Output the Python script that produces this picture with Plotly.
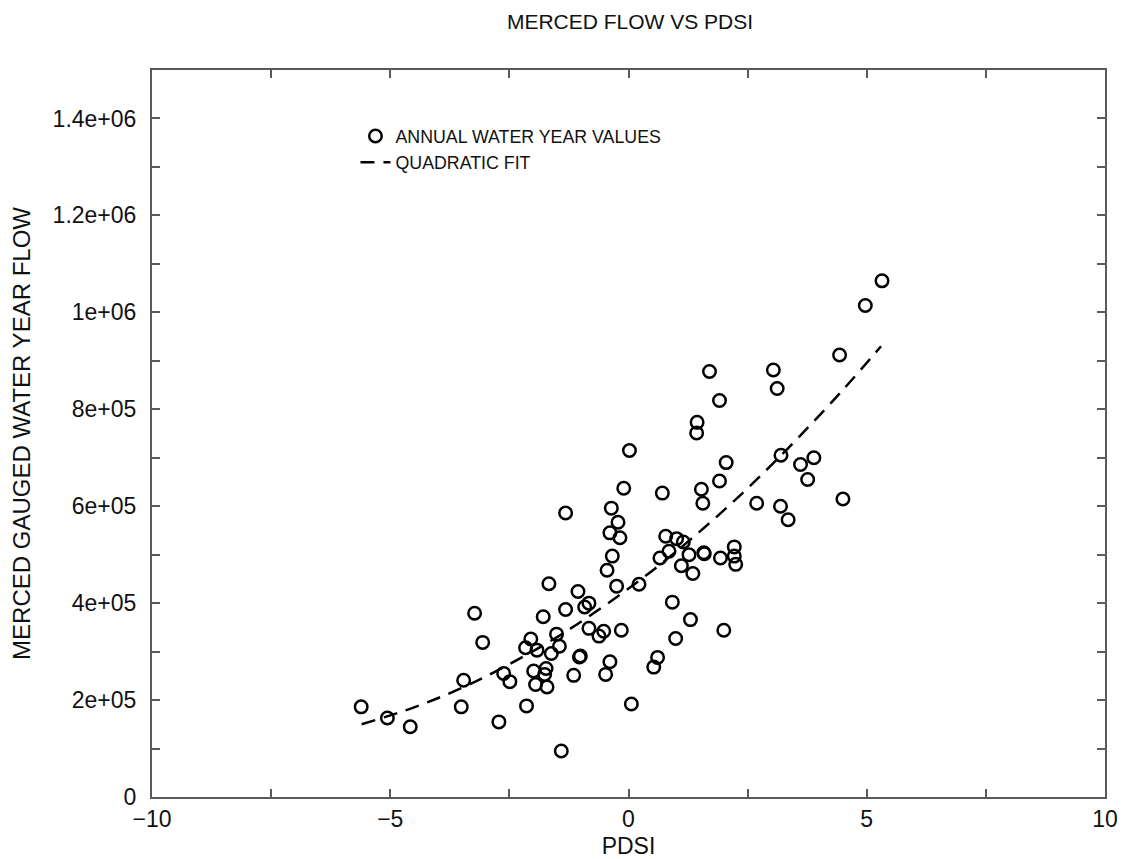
import plotly.graph_objects as go

# Annual water year values (PDSI, flow)
pdsi = [-5.61, -5.06, -4.58, -3.23, -3.06, -3.46, -3.51, -2.72, -2.62, -2.49,
        -2.14, -1.67, -1.79, -2.05, -2.16, -1.92, -1.99, -1.95, -1.71, -1.73,
        -1.76, -1.62, -1.51, -1.45, -1.41, -1.32, -1.06, -0.83, -0.92, -0.83,
        -0.52, -0.62, -1.03, -1.01, -1.15, -0.39, -0.48, -0.15, -0.45, -0.25,
        -0.34, 0.22, 0.06, 0.53, 0.61, 1.44, 1.43, 0.02, -0.10, 0.71,
        2.05, 1.91, 1.53, 1.56, -1.32, -0.36, -0.22, -0.39, -0.18, 0.78,
        1.01, 1.15, 0.85, 0.66, 1.27, 1.11, 1.35, 1.58, 1.59, 1.93,
        2.22, 2.22, 2.25, 2.69, 3.20, 3.61, 3.89, 3.76, 3.19, 3.35,
        4.50, 0.92, 1.30, 2.00, 0.99, 5.32, 4.97, 4.43, 1.70, 1.91,
        3.04, 3.12]
flow = [186e3, 163e3, 145e3, 379e3, 319e3, 241e3, 186e3, 155e3, 255e3, 238e3,
        188e3, 440e3, 372e3, 326e3, 308e3, 303e3, 260e3, 232e3, 227e3, 265e3,
        253e3, 296e3, 336e3, 311e3, 95e3, 387e3, 424e3, 400e3, 392e3, 348e3,
        342e3, 332e3, 289e3, 291e3, 251e3, 279e3, 253e3, 344e3, 468e3, 435e3,
        497e3, 439e3, 192e3, 268e3, 288e3, 773e3, 751e3, 715e3, 637e3, 627e3,
        690e3, 652e3, 635e3, 606e3, 586e3, 596e3, 567e3, 545e3, 535e3, 538e3,
        533e3, 526e3, 507e3, 493e3, 500e3, 477e3, 461e3, 504e3, 502e3, 493e3,
        516e3, 497e3, 480e3, 606e3, 705e3, 686e3, 700e3, 655e3, 600e3, 572e3,
        615e3, 402e3, 366e3, 344e3, 327e3, 1065e3, 1014e3, 912e3, 878e3, 818e3,
        881e3, 843e3]

# Quadratic fit curve
fit_x = [-5.6, -4.5, -3.5, -2.5, -1.5, -0.5, 0.5, 1.5, 2.5, 3.5, 4.5, 5.3]
fit_y = [150e3, 185e3, 225e3, 274e3, 330e3, 395e3, 467e3, 548e3, 637e3, 735e3, 840e3, 930e3]

y_tickvals = [0, 2e5, 4e5, 6e5, 8e5, 1e6, 1.2e6, 1.4e6]
y_ticktext = ["0", "2e+05", "4e+05", "6e+05", "8e+05", "1e+06", "1.2e+06", "1.4e+06"]
x_tickvals = [-10, -5, 0, 5, 10]

FONT = "Liberation Sans, Arial, Helvetica, sans-serif"
AX = "#5a5a5a"

# the page body adds an 8px offset, so the figure is 8px smaller
W, H = 1118, 851

fig = go.Figure()
fig.add_trace(go.Scatter(
    x=pdsi, y=flow, mode="markers", name="ANNUAL WATER YEAR VALUES",
    marker=dict(symbol="circle-open", size=12.5, color="black", line=dict(width=2.5, color="black")),
))
fig.add_trace(go.Scatter(
    x=fit_x, y=fit_y, mode="lines", name="QUADRATIC FIT",
    line=dict(color="black", width=2.5, dash="14px,9px", shape="spline"),
))

fig.update_layout(
    width=W, height=H,
    margin=dict(l=144, r=21, t=62, b=62, autoexpand=False),
    paper_bgcolor="white", plot_bgcolor="white",
    font=dict(family=FONT, color="#111", size=22),
    title=dict(text="MERCED FLOW VS PDSI", x=622 / W, xref="container", xanchor="center",
               y=1 - 14 / H, yref="container", yanchor="middle",
               font=dict(family=FONT, size=21, color="#111")),
    legend=dict(x=0.2135, y=0.934, xanchor="left", yanchor="top",
                bgcolor="rgba(0,0,0,0)", borderwidth=0,
                font=dict(family=FONT, size=17.8, color="#111"),
                tracegroupgap=0, itemwidth=30),
    showlegend=True,
)
fig.update_xaxes(
    range=[-10, 10], tickvals=x_tickvals, showgrid=False, zeroline=False, automargin=False,
    showline=True, linecolor=AX, linewidth=2, mirror="ticks",
    ticks="inside", ticklen=8, tickwidth=1.5, tickcolor=AX,
    minor=dict(dtick=2.5, tick0=0, ticks="inside", ticklen=8, tickwidth=1.5, tickcolor=AX, showgrid=False),
    tickfont=dict(family=FONT, size=23, color="#111"),
    ticklabelstandoff=0,
    title=dict(text="PDSI", font=dict(family=FONT, size=23, color="#111"), standoff=9),
)
fig.update_yaxes(
    range=[0, 1.5e6], tickvals=y_tickvals, ticktext=y_ticktext, showgrid=False, zeroline=False,
    automargin=False,
    showline=True, linecolor=AX, linewidth=2, mirror="ticks",
    ticks="inside", ticklen=8, tickwidth=1.5, tickcolor=AX,
    minor=dict(dtick=1e5, tick0=0, ticks="inside", ticklen=8, tickwidth=1.5, tickcolor=AX, showgrid=False),
    tickfont=dict(family=FONT, size=23, color="#111"),
    ticklabelstandoff=9,
    title=dict(text="MERCED GAUGED WATER YEAR FLOW", font=dict(family=FONT, size=24, color="#111"), standoff=17),
)

fig.write_html("out.html")
